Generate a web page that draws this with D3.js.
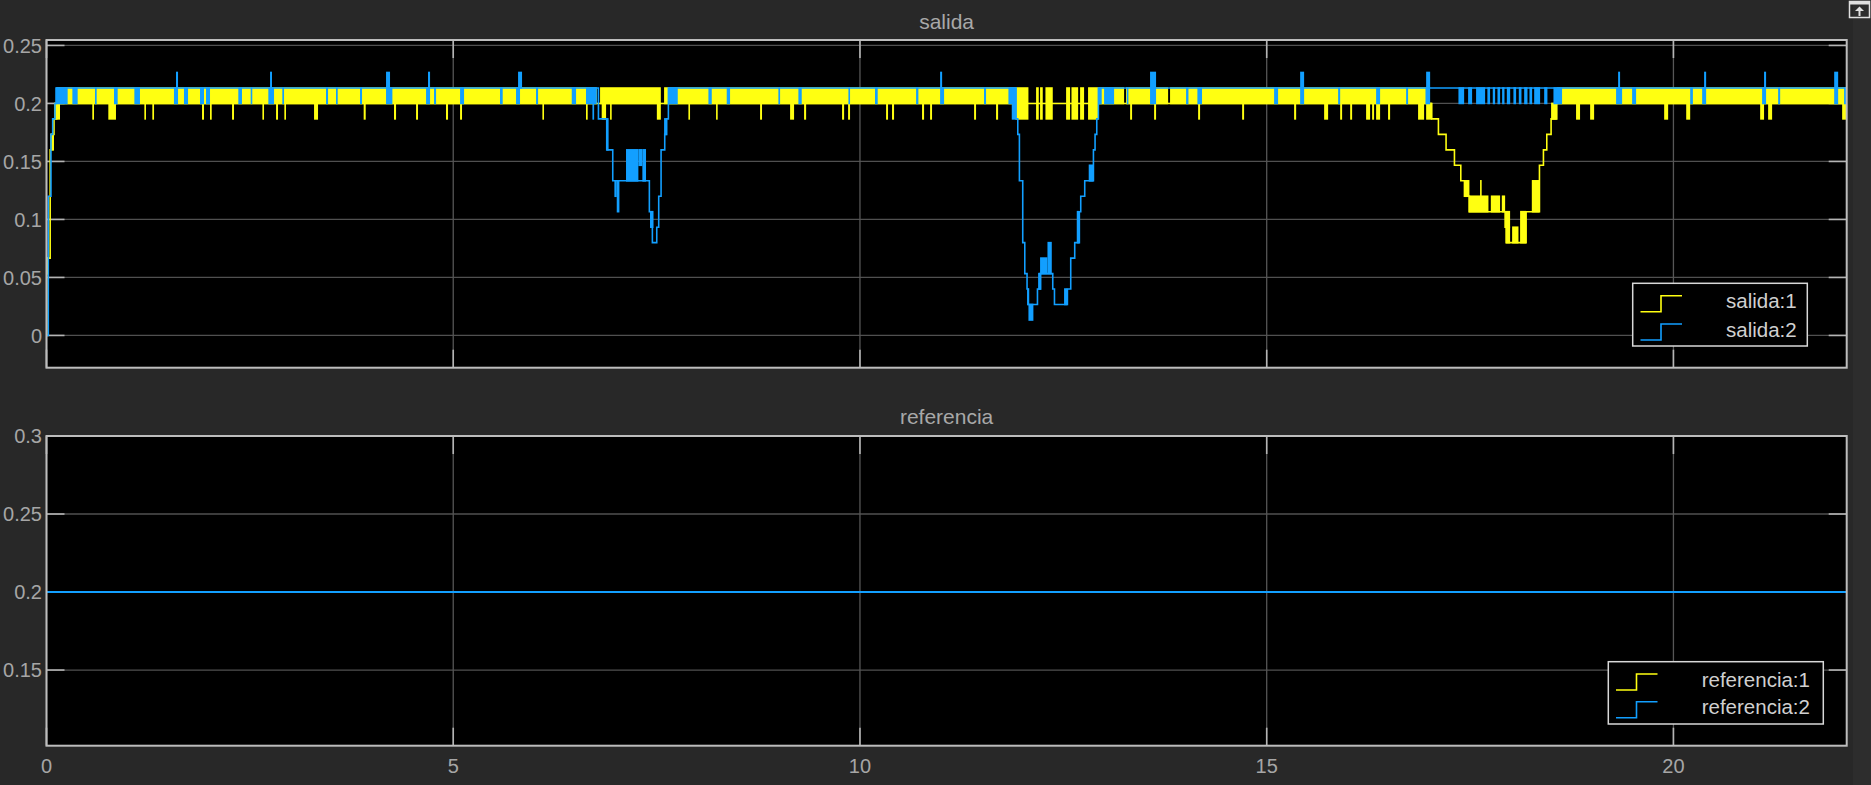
<!DOCTYPE html>
<html><head><meta charset="utf-8">
<script src="https://cdn.jsdelivr.net/npm/d3@7"></script>
<style>html,body{margin:0;padding:0;background:#282828;overflow:hidden}svg{display:block}</style>
</head><body><svg id="c" width="1871" height="785"></svg>
<script>
// ---------------- DATA ----------------
const xTicks = [0, 5, 10, 15, 20];
const yTicksTop = [0, 0.05, 0.1, 0.15, 0.2, 0.25];
const yTicksBottom = [0.15, 0.2, 0.25, 0.3];
const titles = ["salida", "referencia"];
const legendTop = ["salida:1", "salida:2"];
const legendBottom = ["referencia:1", "referencia:2"];
const tEnd = 22.13;

// salida:1 (yellow) main step trajectory [t, value]
const s1Path = [[0,0],[0.002,0.0533],[0.006,0.0667],[0.045,0.16],[0.063,0.1733],[0.092,0.1867],[0.125,0.2],
  [17.029,0.1867],[17.111,0.1733],[17.205,0.16],[17.308,0.1467],[17.386,0.1333],[17.431,0.12],[17.492,0.1067],
  [17.931,0.0933],[17.943,0.08],[18.189,0.1067],[18.353,0.1467],[18.402,0.16],[18.443,0.1733],[18.496,0.1867],
  [18.566,0.2],[22.13,0.2]];
// salida:1 fast switching between 0.2 and 0.2133 [t0, t1]
const s1Band = [[0.125,6.764],[6.805,7.552],[7.592,11.919],[12.931,13.247],[13.271,13.788],[13.812,16.960],[18.566,22.13]];
// salida:1 short drops to 0.1867 [t0, t1]
const s1Drops = [[0.092,0.166],[0.563,0.584],[0.760,0.854],[1.203,1.223],[1.301,1.322],[1.912,1.936],[2.010,2.031],
  [2.281,2.305],[2.654,2.674],[2.822,2.846],[2.924,2.944],[3.289,3.338],[3.899,3.924],[4.272,4.297],[4.543,4.567],
  [4.911,4.936],[5.084,5.108],[6.096,6.116],[6.632,6.653],[6.825,6.879],[6.928,6.948],[7.503,7.552],[7.891,7.911],
  [8.231,8.251],[8.772,8.796],[9.141,9.190],[9.313,9.338],[9.780,9.805],[9.854,9.878],[10.321,10.345],[10.394,10.419],
  [10.763,10.788],[10.862,10.886],[11.403,11.427],[11.673,11.698],[13.321,13.345],[13.616,13.640],[14.157,14.181],
  [14.698,14.722],[15.337,15.362],[15.706,15.755],[15.903,15.927],[16.026,16.050],[16.222,16.271],[16.296,16.320],
  [16.345,16.394],[16.492,16.517],[16.861,16.935],[18.803,18.852],[18.976,19.025],[19.886,19.935],[20.157,20.206],
  [21.066,21.114],[21.164,21.213],[22.074,22.123]];
// salida:1 other switching blocks [t0, t1, low, high]
const s1Blocks = [[0.0,0.008,0.0533,0.0667],[0.045,0.092,0.16,0.1733],
  [11.919,12.071,0.1867,0.2133],[12.165,12.198,0.1867,0.2133],[12.214,12.247,0.1867,0.2133],[12.280,12.370,0.1867,0.2133],
  [12.534,12.583,0.1867,0.2133],[12.600,12.682,0.1867,0.2133],[12.706,12.755,0.1867,0.2133],[12.804,12.931,0.1867,0.2133],
  [16.960,17.029,0.1867,0.2],[17.431,17.492,0.12,0.1333],[17.480,17.726,0.1067,0.12],[17.623,17.630,0.12,0.1333],
  [17.755,17.869,0.1067,0.12],[17.890,17.931,0.1067,0.12],[17.931,17.992,0.0933,0.1067],[17.943,17.992,0.08,0.0933],
  [18.017,18.095,0.08,0.0933],[18.115,18.189,0.08,0.1067],[18.259,18.353,0.1067,0.1333],[18.496,18.566,0.1867,0.2]];

// salida:2 (blue) main step trajectory [t, value]
const s2Path = [[0,0],[0.022,0.12],[0.055,0.1733],[0.076,0.1867],[0.104,0.2],[0.117,0.2133],
  [6.785,0.1867],[6.887,0.16],[6.961,0.1333],[7.411,0.1067],[7.448,0.08],[7.502,0.0933],[7.526,0.12],[7.555,0.16],
  [7.600,0.1733],[7.624,0.1867],[7.645,0.2133],
  [11.919,0.1867],[11.940,0.1733],[11.960,0.1333],[12.001,0.08],[12.026,0.0533],[12.054,0.04],[12.071,0.0267],
  [12.182,0.04],[12.214,0.0533],[12.370,0.04],[12.391,0.0267],[12.550,0.04],[12.591,0.0667],[12.640,0.08],
  [12.697,0.1067],[12.714,0.12],[12.763,0.1333],[12.870,0.16],[12.890,0.1733],[12.911,0.1867],[12.931,0.2133],
  [22.13,0.2133]];
// salida:2 fast switching between 0.2 and 0.2133 [t0, t1]
const s2Band = [[0.117,0.260],[0.318,0.383],[0.596,0.617],[0.830,0.875],[1.080,1.149],[1.567,1.617],[1.690,1.740],
  [1.887,1.936],[1.961,2.010],[2.358,2.403],[2.510,2.526],[2.727,2.797],[2.899,2.920],[3.436,3.461],[3.559,3.580],
  [3.854,3.879],[4.174,4.252],[4.666,4.715],[4.764,4.789],[5.084,5.133],[5.575,5.608],[5.772,5.821],[6.018,6.043],
  [6.457,6.510],[6.632,6.764],[7.645,7.760],[8.137,8.178],[8.362,8.403],[8.997,9.018],[9.243,9.284],[9.858,9.878],
  [10.185,10.218],[10.690,10.718],[10.985,11.034],[11.525,11.550],[11.825,11.919],[12.931,12.972],[13.001,13.124],
  [13.280,13.300],[13.566,13.640],[14.009,14.038],[14.148,14.205],[15.091,15.140],[15.411,15.460],[15.878,15.903],
  [16.345,16.394],[16.714,16.738],[16.952,17.009],[17.357,17.427],[17.476,17.525],[17.574,17.685],[17.713,17.746],
  [17.779,17.808],[17.837,17.869],[17.894,17.923],[17.952,17.993],[18.033,18.066],[18.099,18.132],[18.165,18.206],
  [18.230,18.263],[18.288,18.361],[18.411,18.451],[18.525,18.631],[19.295,19.369],[19.492,19.541],[20.206,20.239],
  [20.353,20.402],[21.090,21.139],[21.287,21.312],[21.976,22.025],[22.098,22.13]];
// salida:2 short rises to 0.2267 [t0, t1]
const s2Rises = [[1.592,1.617],[2.748,2.772],[4.174,4.223],[4.690,4.715],[5.797,5.846],[10.985,11.010],[13.566,13.640],
  [15.411,15.460],[16.960,17.009],[19.320,19.344],[20.377,20.402],[21.114,21.139],[21.976,22.025]];
// salida:2 other switching blocks [t0, t1, low, high]
const s2Blocks = [[6.711,6.732,0.1867,0.2],[6.887,6.910,0.16,0.1867],[6.981,7.010,0.12,0.1333],[7.010,7.043,0.1067,0.1333],
  [7.124,7.276,0.1333,0.16],[7.276,7.325,0.1467,0.16],[7.325,7.370,0.1333,0.16],[7.419,7.461,0.0933,0.1067],
  [7.592,7.624,0.1733,0.1867],
  [11.866,11.919,0.1867,0.2],[12.054,12.071,0.0267,0.04],[12.071,12.132,0.0133,0.0267],[12.190,12.231,0.04,0.0533],
  [12.214,12.305,0.0533,0.0667],[12.305,12.358,0.0533,0.08],[12.509,12.550,0.0267,0.04],[12.665,12.697,0.08,0.1067],
  [12.812,12.870,0.1333,0.1467]];

// referencia
const refTime = [0, 22.13];
const ref1 = [0.2, 0.2];
const ref2 = [0.2, 0.2];

// ---------------- DRAW ----------------
const YEL = "#ffff11", BLU = "#129fff", LW = 1.6;
const svg = d3.select("#c");
const X0 = 46.5, X1 = 1846.7;
const x = d3.scaleLinear().domain([0, tEnd]).range([X0, X1]);

svg.append("rect").attr("width", 1871).attr("height", 785).attr("fill", "#282828");
svg.append("rect").attr("x", 1853).attr("width", 18).attr("height", 785).attr("fill", "#2d2d2d");

// undock icon
const ic = svg.append("g");
ic.append("rect").attr("x", 1849.5).attr("y", 1.5).attr("width", 20).attr("height", 16).attr("fill", "none").attr("stroke", "#e0e0e0").attr("stroke-width", 1.5);
ic.append("rect").attr("x", 1849).attr("y", 1).attr("width", 21).attr("height", 3.5).attr("fill", "#e0e0e0");
ic.append("path").attr("d", "M1859.5,16V8").attr("stroke", "#e0e0e0").attr("stroke-width", 2);
ic.append("path").attr("d", "M1855,11L1859.5,6.5L1864,11Z").attr("fill", "#e0e0e0");

function panel(o) {
  const y = d3.scaleLinear().domain(o.yDomain).range([o.bottom, o.top]);
  const g = svg.append("g");
  g.append("rect").attr("x", X0).attr("y", o.top).attr("width", X1 - X0).attr("height", o.bottom - o.top).attr("fill", "#000");
  const grid = g.append("g");
  o.yTicks.forEach(v => {
    grid.append("line").attr("x1", X0).attr("x2", X1).attr("y1", y(v)).attr("y2", y(v)).attr("stroke", "#505050").attr("stroke-width", 1.3);
  });
  xTicks.forEach(v => {
    grid.append("line").attr("x1", x(v)).attr("x2", x(v)).attr("y1", o.top).attr("y2", o.bottom).attr("stroke", "#565656").attr("stroke-width", 1.3);
  });
  // tick marks (light) inside the box
  const tk = g.append("g").attr("stroke", "#b4b4b4").attr("stroke-width", 1.6);
  o.yTicks.forEach(v => {
    tk.append("line").attr("x1", X0).attr("x2", X0 + 18).attr("y1", y(v)).attr("y2", y(v));
    tk.append("line").attr("x1", X1 - 18).attr("x2", X1).attr("y1", y(v)).attr("y2", y(v));
  });
  xTicks.forEach(v => {
    tk.append("line").attr("x1", x(v)).attr("x2", x(v)).attr("y1", o.top).attr("y2", o.top + 18);
    tk.append("line").attr("x1", x(v)).attr("x2", x(v)).attr("y1", o.bottom - 18).attr("y2", o.bottom);
  });
  const cid = "clip" + o.id;
  svg.append("clipPath").attr("id", cid).append("rect").attr("x", X0).attr("y", o.top).attr("width", X1 - X0).attr("height", o.bottom - o.top);
  const d = g.append("g").attr("clip-path", `url(#${cid})`);
  o.draw(d, y);
  // border
  g.append("rect").attr("x", X0).attr("y", o.top).attr("width", X1 - X0).attr("height", o.bottom - o.top)
    .attr("fill", "none").attr("stroke", "#bdbdbd").attr("stroke-width", 2);
  // y labels
  o.yTicks.forEach(v => {
    g.append("text").attr("x", 42).attr("y", y(v)).attr("dy", "0.36em").attr("text-anchor", "end")
      .attr("font-family", "'Liberation Sans', Arial, sans-serif").attr("font-size", 20).attr("fill", "#a6a6a6").text(String(v));
  });
  if (o.xLabels) {
    xTicks.forEach(v => {
      g.append("text").attr("x", x(v)).attr("y", o.bottom + 27).attr("text-anchor", "middle")
        .attr("font-family", "'Liberation Sans', Arial, sans-serif").attr("font-size", 20).attr("fill", "#a6a6a6").text(String(v));
    });
  }
  g.append("text").attr("x", (X0 + X1) / 2).attr("y", o.titleY).attr("text-anchor", "middle")
    .attr("font-family", "'Liberation Sans', Arial, sans-serif").attr("font-size", 21).attr("fill", "#a8a8a8").text(o.title);
  // legend
  const L = o.legend;
  const lg = g.append("g");
  lg.append("rect").attr("x", L.x0).attr("y", L.y0).attr("width", L.x1 - L.x0).attr("height", L.y1 - L.y0)
    .attr("fill", "#000").attr("stroke", "#d8d8d8").attr("stroke-width", 1.5);
  L.names.forEach((nm, i) => {
    const yb = L.iconB[i], yt = yb - 16;
    lg.append("path").attr("d", `M${L.ix0},${yb}H${L.ix0 + 20.5}V${yt}H${L.ix0 + 41.5}`)
      .attr("fill", "none").attr("stroke", i ? BLU : YEL).attr("stroke-width", 1.6);
    lg.append("text").attr("x", L.tx).attr("y", L.base[i]).attr("font-family", "'Liberation Sans', Arial, sans-serif")
      .attr("font-size", 20.5).attr("fill", "#d0d0d0").text(nm);
  });
}

function blocks(g, y, arr, lo, hi, color) {
  g.append("g").selectAll("rect").data(arr).join("rect")
    .attr("x", d => x(d[0]))
    .attr("width", d => Math.max(LW, x(d[1]) - x(d[0])))
    .attr("y", d => y(d.length > 2 ? d[3] : hi) - LW / 2)
    .attr("height", d => y(d.length > 2 ? d[2] : lo) - y(d.length > 2 ? d[3] : hi) + LW)
    .attr("fill", color);
}
function stepLine(g, y, pts, color) {
  g.append("path").attr("d", d3.line().x(d => x(d[0])).y(d => y(d[1])).curve(d3.curveStepAfter)(pts))
    .attr("fill", "none").attr("stroke", color).attr("stroke-width", LW);
}

panel({
  id: 1, top: 40, bottom: 367.7, yDomain: [-0.0278, 0.2547], yTicks: yTicksTop, xLabels: false,
  title: titles[0], titleY: 28.5,
  legend: { x0: 1632.7, x1: 1807.3, y0: 283.3, y1: 346, ix0: 1640.5, iconB: [311.7, 340], tx: 1726, base: [308.3, 336.7], names: legendTop },
  draw: (g, y) => {
    blocks(g, y, s1Band, 0.2, 0.2133, YEL);
    blocks(g, y, s1Drops, 0.1867, 0.2, YEL);
    blocks(g, y, s1Blocks, 0, 0, YEL);
    stepLine(g, y, s1Path, YEL);
    blocks(g, y, s2Band, 0.2, 0.2133, BLU);
    blocks(g, y, s2Rises, 0.2133, 0.2267, BLU);
    blocks(g, y, s2Blocks, 0, 0, BLU);
    stepLine(g, y, s2Path, BLU);
  }
});

panel({
  id: 2, top: 436, bottom: 745.7, yDomain: [0.1015, 0.3], yTicks: yTicksBottom, xLabels: true,
  title: titles[1], titleY: 424,
  legend: { x0: 1608.3, x1: 1823.3, y0: 661.7, y1: 724, ix0: 1616, iconB: [690, 717.7], tx: 1701.7, base: [686.7, 714.3], names: legendBottom },
  draw: (g, y) => {
    const pts1 = refTime.map((t, i) => [t, ref1[i]]);
    const pts2 = refTime.map((t, i) => [t, ref2[i]]);
    stepLine(g, y, pts1, YEL);
    g.append("path").attr("d", d3.line().x(d => x(d[0])).y(d => y(d[1]))(pts2))
      .attr("fill", "none").attr("stroke", BLU).attr("stroke-width", 2);
  }
});
</script></body></html>
